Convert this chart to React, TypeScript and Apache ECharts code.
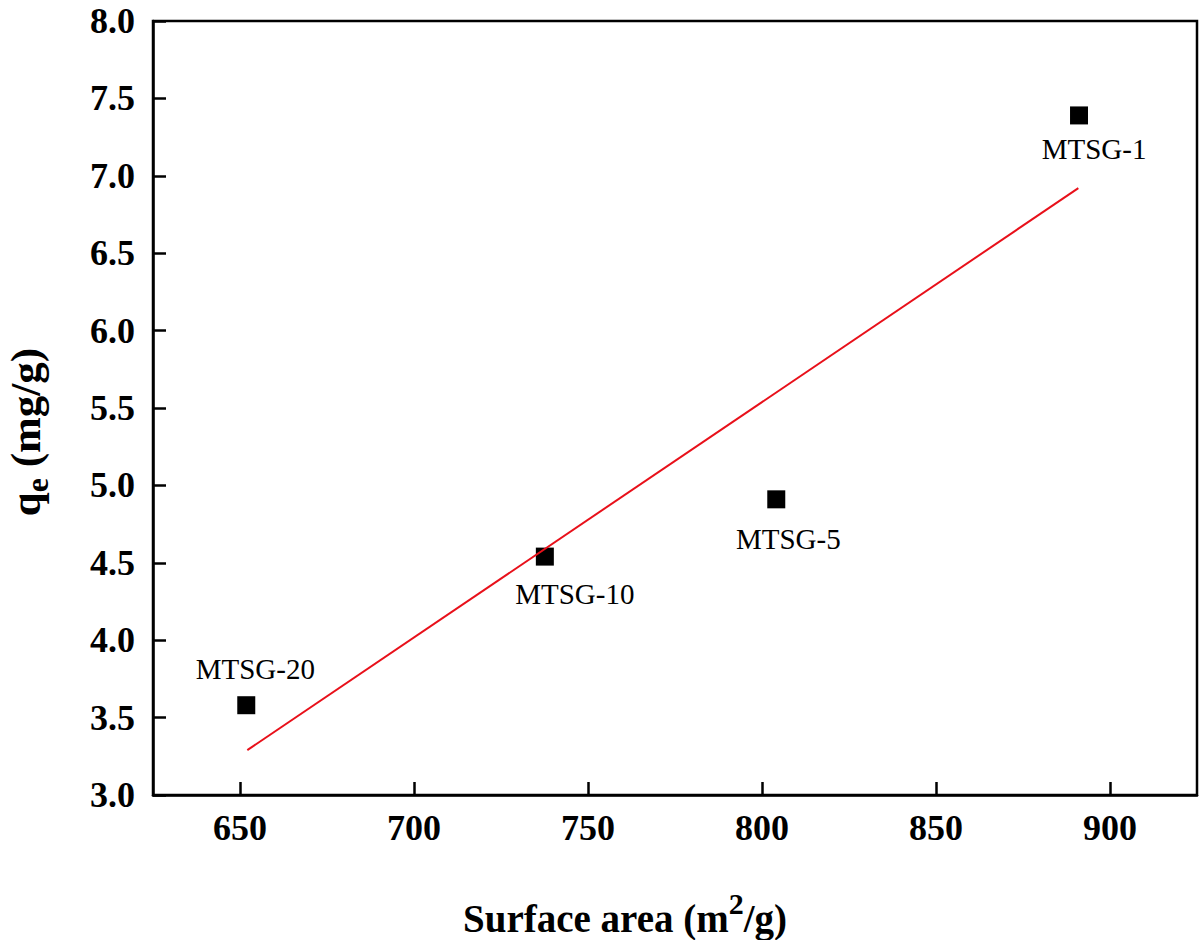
import React, { useEffect, useRef } from 'react';
import * as echarts from 'echarts';

// Data
const sampleNames = ['MTSG-20', 'MTSG-10', 'MTSG-5', 'MTSG-1'];
const surfaceArea = [651.8, 737.6, 804.1, 891.1];
const qeValues = [3.58, 4.54, 4.91, 7.39];
const fitX = [652.1, 890.9];
const fitY = [3.29, 6.92];
const xTicks = [650, 700, 750, 800, 850, 900];
const yTicks = [3.0, 3.5, 4.0, 4.5, 5.0, 5.5, 6.0, 6.5, 7.0, 7.5, 8.0];

const labelOffsets: Record<string, number[]> = {
  'MTSG-20': [9, -36],
  'MTSG-10': [30, 37],
  'MTSG-5': [12, 40],
  'MTSG-1': [15, 34],
};

const FONT = '"Liberation Serif", "Times New Roman", serif';

export default function App() {
  const ref = useRef<HTMLDivElement>(null);
  useEffect(() => {
    if (!ref.current) return;
    const chart = echarts.init(ref.current, undefined, { renderer: 'svg' });
    const axisLabelStyle = {
      fontFamily: FONT,
      fontWeight: 'bold' as const,
      fontSize: 36,
      color: '#000',
    };
    chart.setOption({
      animation: false,
      backgroundColor: '#fff',
      grid: {
        left: 153,
        top: 21,
        right: 3,
        bottom: 145,
        show: true,
        borderColor: '#000',
        borderWidth: 2.5,
      },
      xAxis: {
        type: 'value',
        min: 625,
        max: 925,
        axisLine: { show: true, lineStyle: { color: '#000', width: 2.5 } },
        axisTick: {
          show: true,
          inside: true,
          length: 13,
          lineStyle: { color: '#000', width: 2.5 },
          customValues: xTicks,
        },
        axisLabel: { ...axisLabelStyle, margin: 15, customValues: xTicks },
        splitLine: { show: false },
      },
      yAxis: {
        type: 'value',
        min: 3,
        max: 8,
        axisLine: { show: true, lineStyle: { color: '#000', width: 2.5 } },
        axisTick: {
          show: true,
          inside: true,
          length: 13,
          lineStyle: { color: '#000', width: 2.5 },
          customValues: yTicks,
        },
        axisLabel: {
          ...axisLabelStyle,
          margin: 18,
          customValues: yTicks,
          formatter: (v: number) => v.toFixed(1),
        },
        splitLine: { show: false },
      },
      graphic: [
        {
          type: 'text',
          x: 625,
          y: 918,
          style: {
            text: '{a|Surface area (m}{sup|2}{a|/g)}',
            align: 'center',
            verticalAlign: 'middle',
            fill: '#000',
            rich: {
              a: { fontFamily: FONT, fontWeight: 'bold', fontSize: 39, lineHeight: 60, fill: '#000' },
              sup: {
                fontFamily: FONT,
                fontWeight: 'bold',
                fontSize: 30,
                lineHeight: 30,
                verticalAlign: 'top',
                fill: '#000',
              },
            },
          },
        },
        {
          type: 'text',
          x: 25,
          y: 432,
          rotation: Math.PI / 2,
          style: {
            text: '{a|q}{sub|e}{a| (mg/g)}',
            align: 'center',
            verticalAlign: 'middle',
            fill: '#000',
            rich: {
              a: { fontFamily: FONT, fontWeight: 'bold', fontSize: 43, lineHeight: 56, fill: '#000' },
              sub: {
                fontFamily: FONT,
                fontWeight: 'bold',
                fontSize: 32,
                lineHeight: 32,
                verticalAlign: 'bottom',
                fill: '#000',
              },
            },
          },
        },
      ],
      series: [
        {
          type: 'scatter',
          z: 2,
          symbol: 'rect',
          symbolSize: 18,
          itemStyle: { color: '#000', opacity: 1 },
          label: {
            show: true,
            position: 'inside',
            formatter: '{b}',
            fontFamily: FONT,
            fontSize: 29,
            color: '#000',
          },
          data: surfaceArea.map((x, i) => ({
            name: sampleNames[i],
            value: [x, qeValues[i]],
            label: { offset: labelOffsets[sampleNames[i]] },
          })),
        },
        {
          type: 'line',
          z: 3,
          showSymbol: false,
          symbol: 'none',
          lineStyle: { color: '#e8101a', width: 2 },
          data: fitX.map((x, i) => [x, fitY[i]]),
        },
      ],
    });
    return () => chart.dispose();
  }, []);
  return (
    <div
      ref={ref}
      style={{ position: 'absolute', left: 0, top: 0, width: 1200, height: 940 }}
    />
  );
}
